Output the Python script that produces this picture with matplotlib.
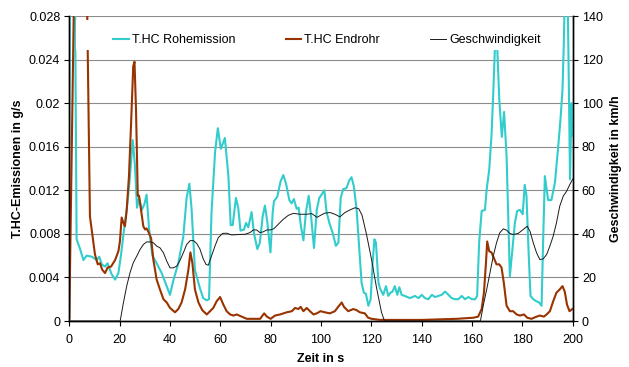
import matplotlib
matplotlib.use("Agg")
import matplotlib.pyplot as plt
from matplotlib.patches import Rectangle
from matplotlib.lines import Line2D

plt.rcParams['font.family'] = ['Liberation Sans', 'DejaVu Sans']
plt.rcParams['font.size'] = 9

# ---------------- data ----------------
roh_t = [0, 0.3, 2.2, 2.9, 4.3, 5.6, 6.9, 8.9, 10.9, 11.9,
         12.9, 14.2, 15.2, 16.8, 18.2, 19.5, 20.5, 21.9, 22.8, 23.9,
         25.2, 26.1, 26.9, 27.7, 28.8, 29.8, 30.7, 31.7, 33.0, 34.7,
         36.7, 38.7, 40.0, 41.3, 43.3, 45.3, 46.6, 47.7, 48.6, 49.9,
         51.9, 53.2, 54.6, 55.5, 56.5, 57.9, 59.0, 60.2, 61.8, 63.2,
         64.1, 64.9, 66.2, 67.1, 68.0, 69.4, 70.2, 71.1, 72.4, 73.4,
         74.7, 75.7, 76.8, 77.7, 78.6, 79.9, 80.8, 81.3, 82.6, 83.9,
         85.0, 86.1, 87.4, 88.3, 89.2, 90.3, 91.1, 92.0, 93.0, 94.0,
         95.1, 96.0, 97.2, 98.3, 99.3, 100.2, 101.3, 102.2, 103.3, 104.6,
         105.9, 106.9, 107.8, 108.8, 110.1, 111.2, 112.1, 113.0, 114.1, 115.2,
         116.1, 117.0, 117.8, 118.8, 119.7, 120.5, 121.2, 121.8, 122.8, 123.4,
         124.7, 125.8, 126.7, 127.6, 128.4, 129.3, 130.3, 131.1, 132.0, 133.3,
         135.3, 137.3, 138.7, 140.0, 141.3, 142.6, 144.0, 145.3, 146.6, 147.9,
         149.3, 150.6, 151.9, 153.2, 154.5, 155.9, 157.2, 158.5, 159.9, 161.2,
         162.0, 162.8, 163.8, 165.1, 165.8, 166.8, 167.7, 168.4, 169.4, 170.0,
         170.8, 171.8, 172.7, 173.7, 174.4, 175.0, 176.0, 177.0, 177.9, 179.0,
         180.1, 180.9, 181.6, 182.5, 183.2, 184.3, 185.6, 186.6, 187.6, 188.2,
         188.9, 189.6, 190.2, 191.5, 192.9, 194.2, 195.1, 195.9, 196.4, 197.0,
         197.8, 198.3, 198.9, 199.5, 200]
roh_v = [0.0163, 0.032, 0.032, 0.0075, 0.0066, 0.0056, 0.0060, 0.0059, 0.0056, 0.0059,
         0.0052, 0.0050, 0.0053, 0.0043, 0.0038, 0.0044, 0.0060, 0.0087, 0.0102, 0.0127,
         0.0166, 0.0142, 0.0104, 0.0113, 0.0102, 0.0107, 0.0116, 0.0084, 0.0060, 0.0053,
         0.0044, 0.0032, 0.0024, 0.0037, 0.0053, 0.0078, 0.0113, 0.0126, 0.0102, 0.0047,
         0.0030, 0.0021, 0.0019, 0.0020, 0.0100, 0.0155, 0.0177, 0.0158, 0.0168, 0.0133,
         0.0088, 0.0088, 0.0113, 0.0104, 0.0083, 0.0084, 0.0090, 0.0086, 0.0100, 0.0080,
         0.0066, 0.0072, 0.0096, 0.0106, 0.0092, 0.0063, 0.0100, 0.0110, 0.0114, 0.0128,
         0.0134, 0.0126, 0.0111, 0.0108, 0.0112, 0.0103, 0.0104, 0.0087, 0.0074, 0.0100,
         0.0115, 0.0097, 0.0067, 0.0102, 0.0113, 0.0116, 0.0120, 0.0100, 0.0090, 0.0081,
         0.0069, 0.0072, 0.0113, 0.0121, 0.0122, 0.0129, 0.0132, 0.0124, 0.0103, 0.0066,
         0.0035, 0.0026, 0.0025, 0.0014, 0.0020, 0.0054, 0.0075, 0.0072, 0.0035, 0.0030,
         0.0024, 0.0032, 0.0023, 0.0026, 0.0027, 0.0032, 0.0024, 0.0031, 0.0024, 0.0023,
         0.0021, 0.0023, 0.0021, 0.0024, 0.0021, 0.0020, 0.0024, 0.0022, 0.0023, 0.0024,
         0.0027, 0.0024, 0.0021, 0.0020, 0.0020, 0.0023, 0.0020, 0.0022, 0.0020, 0.0020,
         0.0023, 0.0072, 0.0101, 0.0102, 0.0121, 0.0139, 0.0170, 0.0209, 0.0272, 0.0250,
         0.0203, 0.0169, 0.0192, 0.0151, 0.0090, 0.0041, 0.0066, 0.0090, 0.0101, 0.0102,
         0.0098, 0.0125, 0.0115, 0.0060, 0.0023, 0.0020, 0.0018, 0.0017, 0.0014, 0.0072,
         0.0133, 0.0121, 0.0111, 0.0111, 0.0127, 0.0160, 0.0185, 0.0212, 0.0252, 0.032,
         0.032, 0.024, 0.013, 0.020, 0.017]

end_t = [0, 2.0, 6.9, 8.2, 8.9, 10.2, 11.3, 12.2, 13.1, 14.2,
         15.2, 16.6, 18.2, 19.5, 20.1, 20.8, 21.5, 22.1, 22.8, 23.7,
         24.5, 25.4, 25.9, 26.5, 27.2, 27.7, 28.5, 29.4, 30.1, 30.7,
         31.4, 32.5, 33.4, 34.7, 36.0, 37.4, 38.7, 40.0, 42.0, 43.3,
         44.6, 46.0, 47.3, 48.1, 48.9, 49.9, 51.3, 52.8, 54.6, 57.2,
         58.5, 59.9, 61.2, 62.5, 63.9, 65.2, 66.5, 68.5, 70.5, 73.1,
         75.8, 77.4, 78.5, 80.0, 81.7, 83.7, 86.4, 88.4, 89.7, 91.0,
         91.9, 93.0, 94.3, 95.6, 97.0, 98.3, 99.8, 101.5, 103.5, 105.5,
         106.8, 108.2, 109.1, 110.8, 112.8, 114.1, 115.4, 117.4, 118.7, 120.1,
         123.4, 127.3, 140.0, 153.9, 160.5, 162.4, 163.8, 164.7, 165.5, 166.0,
         166.8, 167.7, 168.6, 169.7, 170.8, 171.7, 172.6, 173.7, 175.0, 176.3,
         177.7, 179.0, 180.6, 181.9, 183.6, 185.6, 186.9, 188.5, 189.6, 190.9,
         192.2, 193.5, 194.8, 195.9, 196.8, 197.7, 198.7, 199.8]
end_v = [0.0003, 0.032, 0.032, 0.0096, 0.0084, 0.0061, 0.0052, 0.0053, 0.0047, 0.0044,
         0.0049, 0.0050, 0.0056, 0.0064, 0.0073, 0.0095, 0.0090, 0.0087, 0.0102, 0.0133,
         0.0179, 0.0234, 0.0238, 0.0194, 0.0115, 0.0115, 0.0102, 0.0087, 0.0084, 0.0085,
         0.0082, 0.0076, 0.0056, 0.0038, 0.0029, 0.0020, 0.0017, 0.0012, 0.0008, 0.0011,
         0.0017, 0.0029, 0.0047, 0.0063, 0.0053, 0.0029, 0.0017, 0.0010, 0.0006, 0.0012,
         0.0018, 0.0022, 0.0015, 0.0009, 0.0006, 0.0005, 0.0006, 0.0004, 0.0002, 0.0002,
         0.0002, 0.0007, 0.0004, 0.0002, 0.0005, 0.0006, 0.0008, 0.0009, 0.0012, 0.0011,
         0.0013, 0.0009, 0.0012, 0.0009, 0.0006, 0.0007, 0.0009, 0.0008, 0.0007, 0.0009,
         0.0013, 0.0017, 0.0013, 0.0009, 0.0011, 0.0010, 0.0008, 0.0007, 0.0003, 0.0002,
         0.0001, 0.0001, 0.0001, 0.0002, 0.0003, 0.0004, 0.0011, 0.0026, 0.0053, 0.0073,
         0.0064, 0.0063, 0.0058, 0.0052, 0.0052, 0.0049, 0.0035, 0.0014, 0.0009, 0.0009,
         0.0006, 0.0005, 0.0006, 0.0003, 0.0002, 0.0004, 0.0005, 0.0004, 0.0006, 0.0009,
         0.0018, 0.0026, 0.0029, 0.0032, 0.0027, 0.0015, 0.0009, 0.0011]

speed_t = [0, 20.2, 21.5, 22.8, 24.1, 25.4, 26.8, 28.1, 29.4, 30.7,
           32.1, 33.4, 34.7, 36.0, 37.4, 38.7, 40.0, 41.3, 42.7, 44.0,
           45.3, 46.6, 48.0, 49.3, 50.6, 51.9, 53.2, 54.3, 55.2, 56.5,
           57.9, 59.2, 60.9, 62.5, 64.5, 67.1, 69.8, 71.8, 73.1, 74.4,
           75.7, 77.0, 78.4, 79.9, 81.3, 83.0, 85.0, 87.0, 89.0, 91.6,
           94.3, 96.3, 98.4, 99.8, 101.5, 103.5, 105.5, 107.5, 109.5, 111.5,
           113.5, 115.0, 116.3, 118.1, 120.1, 122.0, 124.0, 125.2, 163.3, 164.4,
           165.8, 167.1, 168.4, 169.7, 171.0, 172.4, 173.7, 175.0, 176.3, 178.3,
           180.3, 181.9, 183.0, 184.3, 185.6, 186.9, 188.2, 189.6, 190.9, 192.2,
           193.5, 194.8, 196.2, 197.5, 198.8, 200]
speed_v = [0, 0, 8.4, 16.0, 22.1, 26.7, 29.8, 32.8, 35.1, 36.3,
           36.3, 35.9, 34.4, 33.6, 31.3, 27.5, 24.4, 24.4, 25.2, 27.9,
           31.3, 35.1, 36.9, 36.9, 35.6, 33.0, 28.5, 26.0, 25.6, 29.9,
           34.5, 38.3, 40.2, 40.3, 39.5, 39.7, 39.8, 40.6, 41.8, 41.8,
           40.6, 40.9, 41.8, 41.8, 42.4, 44.4, 46.7, 48.5, 49.4, 49.0,
           49.0, 49.3, 47.6, 48.5, 49.5, 49.8, 49.0, 47.8, 49.8, 51.0,
           52.0, 51.5, 48.5, 39.5, 28.0, 15.5, 4.0, 0, 0, 6.9,
           14.5, 22.1, 29.8, 35.9, 40.5, 42.3, 41.7, 40.2, 39.7, 40.2,
           42.0, 43.5, 41.2, 35.9, 31.3, 28.2, 28.5, 30.5, 34.4, 38.9,
           45.0, 52.7, 57.3, 59.5, 62.6, 65.2]

emis_ticks = [0, 0.004, 0.008, 0.012, 0.016, 0.02, 0.024, 0.028]
emis_ticklabels = ['0', '0.004', '0.008', '0.012', '0.016', '0.02', '0.024', '0.028']
speed_ticks = [0, 20, 40, 60, 80, 100, 120, 140]
time_ticks = [0, 20, 40, 60, 80, 100, 120, 140, 160, 180, 200]

label_roh = 'T.HC Rohemission'
label_end = 'T.HC Endrohr'
label_speed = 'Geschwindigkeit'

assert len(roh_t) == len(roh_v)
assert len(end_t) == len(end_v)
assert len(speed_t) == len(speed_v)

# ---------------- plot ----------------
W, H = 629, 367
fig = plt.figure(figsize=(W / 100, H / 100), dpi=100)
ax = fig.add_axes([69.3 / W, 1 - 321 / H, 503.5 / W, 305 / H])
ax2 = ax.twinx()

c_roh = '#33CCCC'
c_end = '#993300'
c_spd = '#1a1a1a'

ax.plot(roh_t, roh_v, color=c_roh, lw=1.5, zorder=3)
ax.plot(end_t, end_v, color=c_end, lw=1.5, zorder=4)
ax2.plot(speed_t, speed_v, color=c_spd, lw=0.7, zorder=3)

ax.set_xlim(0, 200)
ax.set_ylim(0, 0.028)
ax2.set_ylim(0, 140)
ax.set_xticks(time_ticks)
ax.set_yticks(emis_ticks)
ax.set_yticklabels(emis_ticklabels)
ax2.set_yticks(speed_ticks)

ax.yaxis.grid(True, color='#8c8c8c', lw=0.8)
ax.set_axisbelow(True)

for a in (ax, ax2):
    a.spines['top'].set_visible(False)
    for s in ('left', 'right', 'bottom'):
        a.spines[s].set_linewidth(1.0)
        a.spines[s].set_color('black')
    a.tick_params(direction='out', length=3.5, width=0.8, labelsize=9, pad=3)
ax.tick_params(axis='x', pad=6)

ax.set_xlabel('Zeit in s', fontweight='bold', fontsize=9, labelpad=5)
ax.set_ylabel('T.HC-Emissionen in g/s', fontweight='bold', fontsize=9, labelpad=3.5)
ax2.set_ylabel('Geschwindigkeit in km/h', fontweight='bold', fontsize=9, labelpad=5.5)

# legend background box (white, no frame)
x0 = (76 - 69.3) / 503.5
x1 = (556 - 69.3) / 503.5
y0 = (321 - 50) / 305
y1 = (321 - 20) / 305
ax2.add_patch(Rectangle((x0, y0), x1 - x0, y1 - y0, transform=ax2.transAxes,
                        facecolor='white', edgecolor='none', zorder=10, clip_on=False))

handles = [Line2D([], [], color=c_roh, lw=1.5),
           Line2D([], [], color=c_end, lw=1.5),
           Line2D([], [], color=c_spd, lw=0.7)]
leg = ax2.legend(handles, [label_roh, label_end, label_speed], ncol=3,
                 loc='center', bbox_to_anchor=((327 - 69.3) / 503.5, (321 - 40) / 305),
                 frameon=False, fontsize=9, handlelength=1.25, handletextpad=0.25,
                 columnspacing=4.0, borderaxespad=0)
leg.set_zorder(11)

fig.savefig('out.png', dpi=100)
